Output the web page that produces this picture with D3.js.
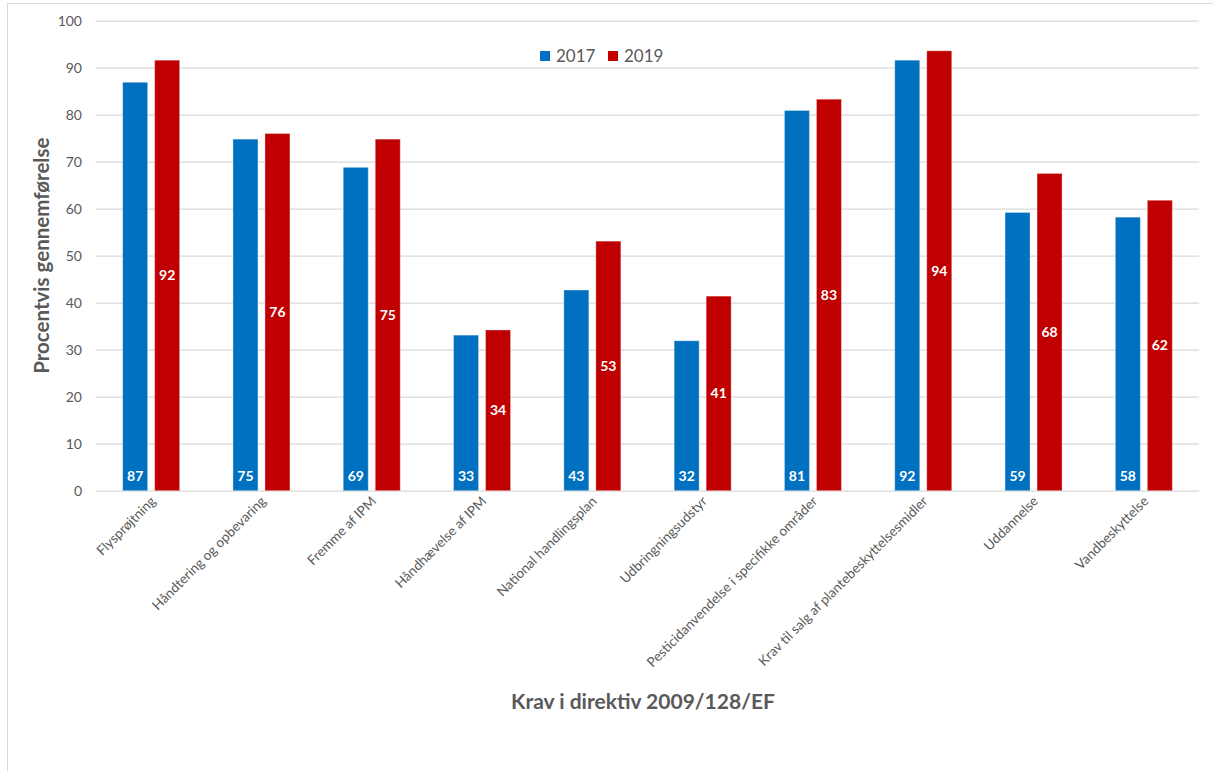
<!DOCTYPE html>
<html lang="da">
<head>
    <meta charset="UTF-8">
    <title>Krav i direktiv 2009/128/EF</title>
    <script src="https://cdnjs.cloudflare.com/ajax/libs/d3/7.8.0/d3.min.js"></script>
    <style>
        body { margin: 0; background: #fff; }
        svg { display: block; font-family: Lato, "Open Sans", sans-serif; }
    </style>
</head>
<body>

    <svg id="viz" width="1213" height="771"></svg>

    <script>
        // data
        const categories = ["Flysprøjtning", "Håndtering og opbevaring", "Fremme af IPM", "Håndhævelse af IPM",
            "National handlingsplan", "Udbringningsudstyr", "Pesticidanvendelse i specifikke områder",
            "Krav til salg af plantebeskyttelsesmidler", "Uddannelse", "Vandbeskyttelse"];
        const series = ["2017", "2019"];
        const values2017 = [86.9, 74.8, 68.8, 33.1, 42.7, 31.9, 80.9, 91.6, 59.2, 58.2];
        const values2019 = [91.6, 76.0, 74.8, 34.2, 53.1, 41.4, 83.3, 93.6, 67.5, 61.8];
        const yTicks = [0, 10, 20, 30, 40, 50, 60, 70, 80, 90, 100];
        const colors = ["#0070C0", "#C00000"];

        const svg = d3.select('#viz');
        const textCol = "#595959";

        // chart frame
        svg.append("rect")
            .attr("x", 7.5).attr("y", 3.5)
            .attr("width", 1220).attr("height", 800)
            .attr("fill", "none").attr("stroke", "#d9d9d9");

        const pLeft = 96, pRight = 1199, pTop = 20.7, pBottom = 490.7;

        const x = d3.scaleBand().domain(categories).range([pLeft, pRight]).padding(0);
        const x1 = d3.scaleBand().domain(series).range([-28.5, 28.5]).paddingInner(0.21875).paddingOuter(0);
        const y = d3.scaleLinear().domain([0, 100]).range([pBottom, pTop]);
        const color = d3.scaleOrdinal().domain(series).range(colors);

        // gridlines + tick labels
        const yAxis = svg.append("g")
            .attr("transform", "translate(" + pLeft + ",0)")
            .call(d3.axisLeft(y).tickValues(yTicks).tickSize(-(pRight - pLeft)).tickPadding(14));
        yAxis.select(".domain").remove();
        yAxis.selectAll(".tick line").attr("stroke", "#d9d9d9").attr("stroke-width", 1.3);
        yAxis.selectAll(".tick text")
            .attr("fill", textCol).attr("font-size", 14).attr("font-family", "Lato, sans-serif");

        const rows = categories.map((c, i) => ({ cat: c, vals: [values2017[i], values2019[i]] }));

        const groups = svg.append("g").selectAll("g")
            .data(rows).join("g")
            .attr("transform", d => "translate(" + (x(d.cat) + x.bandwidth() / 2) + ",0)");

        const bars = groups.selectAll("g")
            .data(d => d.vals.map((v, k) => ({ s: series[k], v: v })))
            .join("g");

        bars.append("rect")
            .attr("x", d => x1(d.s))
            .attr("width", x1.bandwidth())
            .attr("y", d => y(d.v))
            .attr("height", d => pBottom - y(d.v))
            .attr("fill", d => color(d.s))
            .attr("stroke", "rgba(255,255,255,0.35)")
            .attr("stroke-width", 1);

        const fmt = d3.format(".0f");
        bars.append("text")
            .attr("x", d => x1(d.s) + x1.bandwidth() / 2)
            .attr("y", d => d.s === "2017" ? pBottom - 15 : (y(d.v) + pBottom) / 2)
            .attr("dy", "0.35em")
            .attr("text-anchor", "middle")
            .attr("fill", "#fff")
            .attr("font-weight", "bold")
            .attr("font-size", 14)
            .text(d => fmt(d.v));

        // category labels
        svg.append("g").selectAll("text")
            .data(categories).join("text")
            .attr("transform", d => "translate(" + (x(d) + x.bandwidth() / 2 + 2) + "," + (pBottom + 8) + ") rotate(-45)")
            .attr("text-anchor", "end")
            .attr("dy", "0.35em")
            .attr("fill", textCol)
            .attr("font-size", 13.5)
            .text(d => d);

        // axis titles
        svg.append("text")
            .attr("transform", "translate(49," + ((pTop + pBottom) / 2) + ") rotate(-90)")
            .attr("text-anchor", "middle")
            .attr("fill", textCol)
            .attr("font-weight", "bold")
            .attr("font-size", 20.5)
            .text("Procentvis gennemførelse");

        svg.append("text")
            .attr("x", 643)
            .attr("y", 709)
            .attr("text-anchor", "middle")
            .attr("fill", textCol)
            .attr("font-weight", "bold")
            .attr("font-size", 21)
            .text("Krav i direktiv 2009/128/EF");

        // legend
        const legend = svg.append("g").selectAll("g")
            .data(series).join("g")
            .attr("transform", (d, i) => "translate(" + (540 + i * 68) + ",51)");
        legend.append("rect")
            .attr("width", 10).attr("height", 10)
            .attr("fill", d => color(d));
        legend.append("text")
            .attr("x", 16).attr("y", 5).attr("dy", "0.35em")
            .attr("fill", textCol)
            .attr("font-size", 17)
            .text(d => d);
    </script>
</body>
</html>
